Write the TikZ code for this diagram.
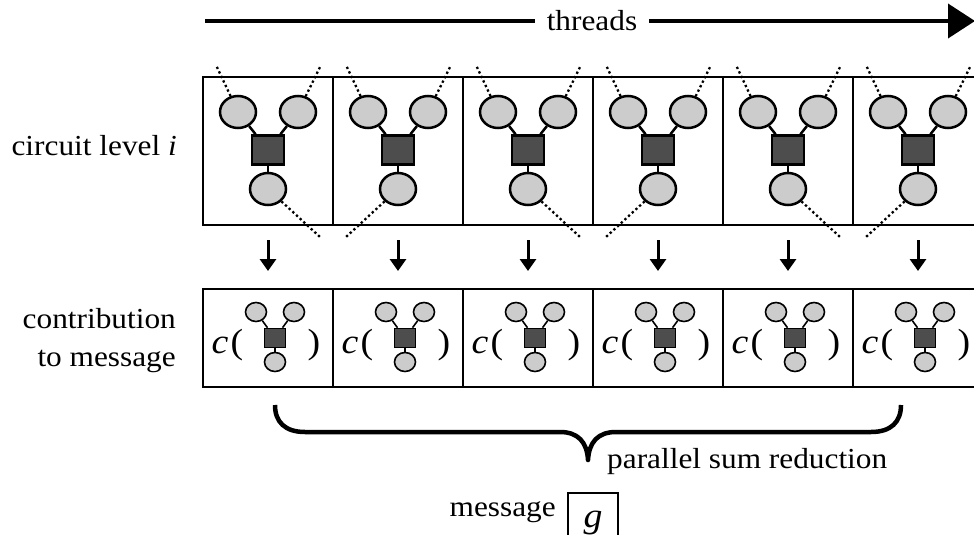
\documentclass[tikz,border=0pt]{standalone}
\usepackage{fontspec}
\setmainfont{Liberation Serif}[FakeStretch=1.08]
\usetikzlibrary{shapes.geometric,arrows.meta}
\definecolor{lg}{HTML}{CCCCCC}
\definecolor{dg}{HTML}{4D4D4D}
\begin{document}
\begin{tikzpicture}[x=1pt,y=-1pt,
  lbl/.style={font=\fontsize{29}{33}\selectfont, inner sep=0pt},
  big/.style={font=\fontsize{35}{40}\selectfont, inner sep=0pt},
  bigbox/.style={draw, line width=2.5pt, minimum width=130pt, minimum height=148pt, inner sep=0pt},
  smallbox/.style={draw, line width=2pt, minimum width=130pt, minimum height=98pt, inner sep=0pt},
  bnode/.style={ellipse, draw, line width=2.5pt, fill=lg, minimum width=36pt, minimum height=32pt, inner sep=0pt},
  fnode/.style={rectangle, draw, line width=2.5pt, fill=dg, minimum width=32pt, minimum height=29pt, inner sep=0pt},
  sbnode/.style={ellipse, draw, line width=1.6pt, fill=lg, minimum width=21pt, minimum height=19pt, inner sep=0pt},
  sfnode/.style={rectangle, draw, line width=1.6pt, fill=dg, minimum width=21pt, minimum height=19pt, inner sep=0pt},
  edgeline/.style={line width=2.5pt},
  sedge/.style={line width=1.6pt},
  dotl/.style={line width=2.3pt, dash pattern=on 2.3pt off 2.7pt},
  varrow/.style={line width=3pt, -{Triangle[length=12pt,width=16pt]}, shorten <=14pt, shorten >=17pt}
]
\useasboundingbox (0,0) rectangle (974,535);

% threads arrow
\node[lbl, anchor=base, fill=white, inner xsep=12pt] (thr) at (592,31) {threads};
\coordinate (as) at (205,21);
\coordinate (ae) at (975,21);
\draw[line width=4pt] (as) -- (as -| thr.west);
\draw[line width=4pt, -{Triangle[length=27pt,width=34pt]}] (ae -| thr.east) -- (ae);

% left labels
\node[lbl, anchor=base east] (lv) at (177,155) {circuit level \textit{i}};
\node[lbl, anchor=base east] (ct1) at (176,328) {contribution};
\node[lbl, anchor=base east] (ct2) at (176,366) {to message};

\foreach \i in {0,...,5}{
  \pgfmathsetmacro\cx{268+130*\i}
  \pgfmathsetmacro\dx{52*(1-2*mod(\i,2))}
  % top row
  \node[bigbox] (t\i) at (\cx,151) {};
  \node[bnode] (a\i) at (\cx-30,112) {};
  \node[bnode] (c\i) at (\cx+30,112) {};
  \node[fnode] (f\i) at (\cx,150) {};
  \node[bnode] (d\i) at (\cx,189) {};
  \draw[edgeline] (a\i) -- (f\i);
  \draw[edgeline] (c\i) -- (f\i);
  \draw[edgeline] (d\i) -- (f\i);
  \coordinate (pa\i) at (\cx-52,65);
  \coordinate (pc\i) at (\cx+53,65);
  \coordinate (pd\i) at (\cx+\dx,237);
  \draw[dotl] (a\i) -- (pa\i);
  \draw[dotl] (c\i) -- (pc\i);
  \draw[dotl] (d\i) -- (pd\i);
  % bottom row
  \node[smallbox] (b\i) at (\cx,338) {};
  \node[big, anchor=base] (cc\i) at (\cx-48,353) {\textit{c}};
  \node[big, anchor=base] (lp\i) at (\cx-31,353) {(};
  \node[big, anchor=base] (rp\i) at (\cx+46,353) {)};
  \node[sbnode] (sa\i) at (\cx-12,312) {};
  \node[sbnode] (sc\i) at (\cx+26,312) {};
  \node[sfnode] (sf\i) at (\cx+7,338) {};
  \node[sbnode] (sd\i) at (\cx+7,362) {};
  \draw[sedge] (sa\i) -- (sf\i);
  \draw[sedge] (sc\i) -- (sf\i);
  \draw[sedge] (sd\i) -- (sf\i);
  % arrow
  \draw[varrow] (t\i.south) -- (b\i.north);
}

% brace
\draw[line width=4.5pt, line join=round]
  (275,405) .. controls (275,422) and (285,432) .. (305,432) -- (560,432)
  .. controls (578,432) and (587,442) .. (588,460)
  .. controls (589,442) and (598,432) .. (616,432) -- (871,432)
  .. controls (891,432) and (901,422) .. (901,405);
\node[lbl, anchor=base west] (psr) at (607,468) {parallel sum reduction};

% message
\node[lbl, anchor=base east] (msg) at (556,516) {message};
\node[draw, line width=1.8pt, minimum width=50pt, minimum height=60pt, anchor=north, inner sep=0pt, font=\fontsize{35}{40}\selectfont] (gbox) at (593,492) {\raisebox{8pt}{\textit{g}}};
\end{tikzpicture}
\end{document}
